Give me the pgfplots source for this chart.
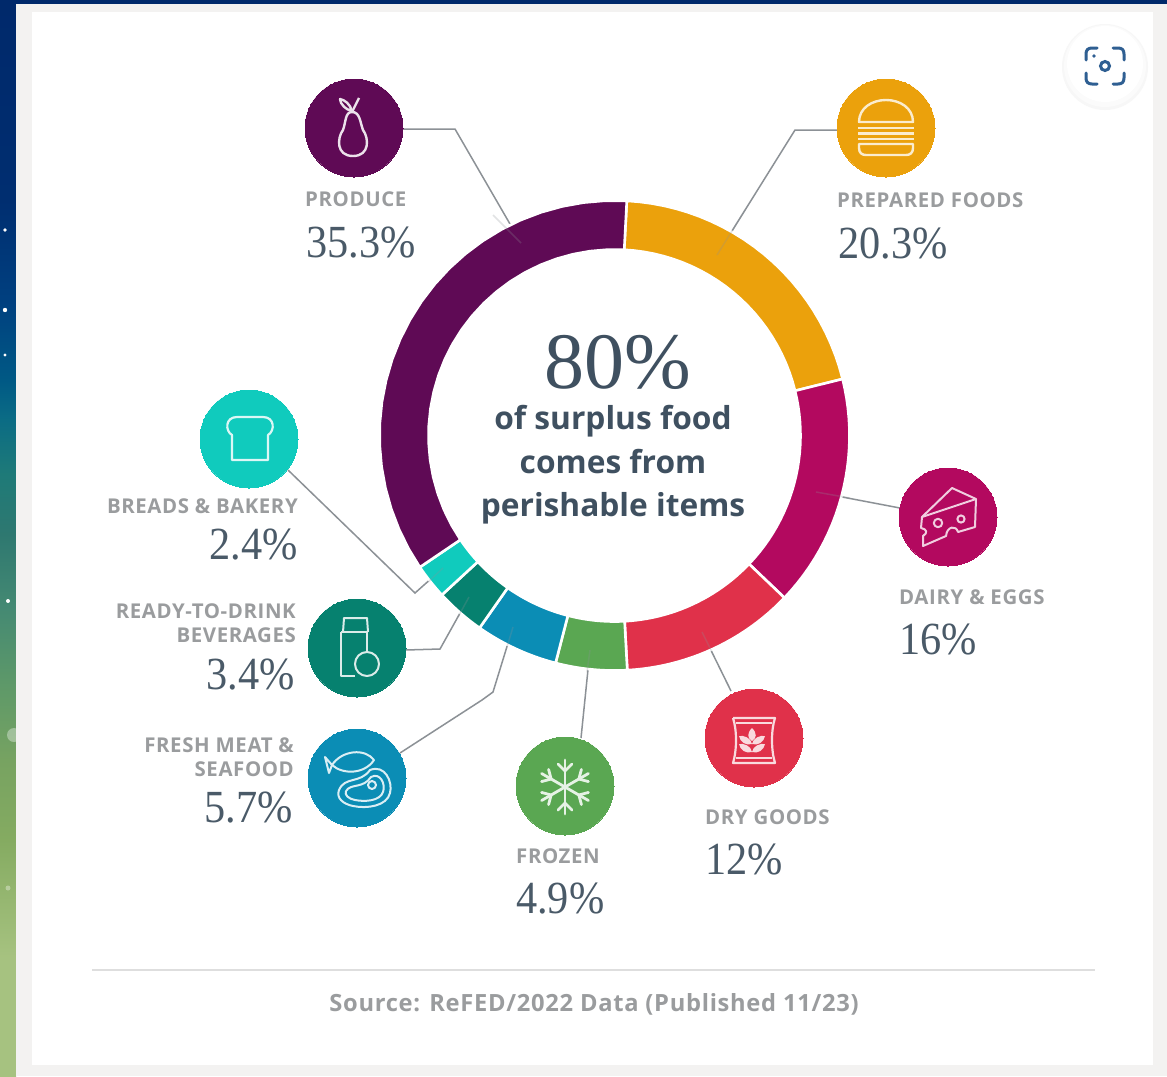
\documentclass[border=0pt]{standalone}
\usepackage{pgfplots}
\pgfplotsset{compat=1.18}
\usepackage{fontspec}
\setmainfont{Liberation Serif}
\newfontfamily\valfont[FakeStretch=0.92]{Liberation Serif}
\newfontfamily\lab[LetterSpace=3,BoldFont={Open Sans Bold}]{Open Sans}
\newfontfamily\body[BoldFont={Open Sans Bold}]{Open Sans}

\definecolor{produce}{HTML}{5F0A55}
\definecolor{prepared}{HTML}{EBA10C}
\definecolor{dairy}{HTML}{B3095F}
\definecolor{dry}{HTML}{E0314A}
\definecolor{frozen}{HTML}{5AA752}
\definecolor{fresh}{HTML}{0B8DB5}
\definecolor{ready}{HTML}{06816F}
\definecolor{breads}{HTML}{10CBBD}
\definecolor{leader}{HTML}{8C9196}
\definecolor{labelgray}{HTML}{9A9C9E}
\definecolor{valueink}{HTML}{4A5A68}
\definecolor{centerink}{HTML}{3F5060}
\definecolor{lensblue}{HTML}{2F5F92}
\definecolor{navy}{HTML}{00296B}
\definecolor{panel}{HTML}{F3F2F1}

% Night-to-meadow backdrop along the left edge
\pgfdeclareverticalshading{skystrip}{100bp}{
  rgb(0bp)=(0.65,0.76,0.50);
  rgb(30.6bp)=(0.65,0.76,0.50);
  rgb(36bp)=(0.52,0.67,0.38);
  rgb(39.5bp)=(0.47,0.64,0.38);
  rgb(43.1bp)=(0.37,0.60,0.41);
  rgb(46.7bp)=(0.27,0.54,0.45);
  rgb(50.2bp)=(0.18,0.47,0.44);
  rgb(52.9bp)=(0.12,0.48,0.47);
  rgb(55.6bp)=(0.04,0.42,0.52);
  rgb(57.3bp)=(0.00,0.35,0.52);
  rgb(61bp)=(0.00,0.25,0.50);
  rgb(65.7bp)=(0.00,0.18,0.44);
  rgb(75bp)=(0.00,0.16,0.42);
  rgb(100bp)=(0.00,0.16,0.42)}

% Ring geometry and running share of the whole
\def\cx{614.5}
\def\cy{435.5}
\def\rout{235}
\def\rin{186}
\def\offs{3}
\gdef\cum{0}

% One ring segment: share in percent, colour
\newcommand{\slice}[2]{%
  \pgfmathsetmacro{\aS}{\offs+3.6*\cum}%
  \pgfmathsetmacro{\aE}{\aS+3.6*#1}%
  \gdef\pts{}%
  \foreach \k in {0,...,24}{%
    \pgfmathsetmacro{\th}{\aS+(\aE-\aS)*\k/24}%
    \pgfmathsetmacro{\px}{\cx+\rout*sin(\th)}%
    \pgfmathsetmacro{\py}{\cy-\rout*cos(\th)}%
    \xdef\pts{\pts (\px,\py)}}%
  \foreach \k in {24,23,...,0}{%
    \pgfmathsetmacro{\th}{\aS+(\aE-\aS)*\k/24}%
    \pgfmathsetmacro{\px}{\cx+\rin*sin(\th)}%
    \pgfmathsetmacro{\py}{\cy-\rin*cos(\th)}%
    \xdef\pts{\pts (\px,\py)}}%
  \edef\cmd{\noexpand\addplot[fill=#2,draw=white,line width=2.6pt,line join=miter] coordinates {\pts} -- cycle;}%
  \cmd
  \pgfmathsetmacro{\nc}{\cum+#1}%
  \xdef\cum{\nc}%
}
% One badge disc
\newcommand{\badge}[3]{\addplot[only marks,mark=*,mark size=49pt,color=#3,mark options={draw=#3,fill=#3,line width=0pt}] coordinates {(#1,#2)};}
% Text helpers
\newcommand{\labtext}[1]{{\lab\bfseries\fontsize{20.4}{20.4}\selectfont\color{labelgray}#1}}
\newcommand{\valtext}[1]{{\valfont\fontsize{46}{46}\selectfont\color{valueink}#1}}

\begin{document}
\begin{tikzpicture}
\begin{scope}[x=1pt,y=-1pt]
  \useasboundingbox (0,0) rectangle (1167,1076);
  \shade[shading=skystrip] (0,0) rectangle (16,1076);
  \fill[white] (5,230) circle (1.8) (5,310) circle (2.2) (5,355) circle (1.6) (8,601) circle (2);
  \fill[white,opacity=.35] (14,735) circle (7) (8,888) circle (2.5);
  \fill[navy] (0,0) rectangle (1167,4);
  \fill[panel] (16,4) rectangle (1167,1076);
  \fill[white] (32,12) rectangle (1153,1065);
\end{scope}
\begin{axis}[
  at={(0,0)},anchor=north west,
  x=1pt,y=1pt,y dir=reverse,
  xmin=0,xmax=1167,ymin=0,ymax=1076,
  hide axis,clip=false]
  % Leader lines beneath the ring
  \addplot[no marks,leader,line width=1.5pt] coordinates {(403,129) (455,129) (521,243)};
  \addplot[no marks,leader,line width=1.5pt] coordinates {(837,130) (795,130) (717,255)};
  \addplot[no marks,leader,line width=1.5pt] coordinates {(816,492) (900,508)};
  \addplot[no marks,leader,line width=1.5pt] coordinates {(702,632) (731,691)};
  \addplot[no marks,leader,line width=1.5pt] coordinates {(590,650) (581,738)};
  \addplot[no marks,leader,line width=1.5pt] coordinates {(513,627) (493,692) (482,700) (400,753)};
  \addplot[no marks,leader,line width=1.5pt] coordinates {(469,597) (440,649) (405,650)};
  \addplot[no marks,leader,line width=1.5pt] coordinates {(288,470) (415,593) (443,568)};
  % Ring, clockwise from the top
  \slice{20.3}{prepared}
  \slice{16}{dairy}
  \slice{12}{dry}
  \slice{4.9}{frozen}
  \slice{5.7}{fresh}
  \slice{3.4}{ready}
  \slice{2.4}{breads}
  \slice{35.3}{produce}
  % Leader ends showing faintly on the ring
  \addplot[no marks,leader,opacity=.25,line width=1.5pt] coordinates {(493,215) (521,243)};
  \addplot[no marks,leader,opacity=.25,line width=1.5pt] coordinates {(745,210) (717,255)};
  \addplot[no marks,leader,opacity=.25,line width=1.5pt] coordinates {(816,492) (850,498)};
  \addplot[no marks,leader,opacity=.25,line width=1.5pt] coordinates {(702,632) (712,652)};
  \addplot[no marks,leader,opacity=.25,line width=1.5pt] coordinates {(590,650) (587,672)};
  \addplot[no marks,leader,opacity=.25,line width=1.5pt] coordinates {(513,627) (507,647)};
  \addplot[no marks,leader,opacity=.25,line width=1.5pt] coordinates {(469,597) (458,617)};
  \addplot[no marks,leader,opacity=.25,line width=1.5pt] coordinates {(443,568) (428,582)};
  % Badges
  \badge{354}{128}{produce}
  \badge{886}{128}{prepared}
  \badge{948}{517}{dairy}
  \badge{754}{738}{dry}
  \badge{565}{786}{frozen}
  \badge{357}{778}{fresh}
  \badge{357}{648}{ready}
  \badge{249}{439}{breads}
  % Footer rule
  \addplot[no marks,color=black!13,line width=2pt] coordinates {(92,970) (1095,970)};
  % Labels and values
  \node[anchor=base west,inner sep=0] at (axis cs:305,206) {\labtext{PRODUCE}};
  \node[anchor=base west,inner sep=0] at (axis cs:306,257) {\valtext{35.3\%}};
  \node[anchor=base west,inner sep=0] at (axis cs:837,207) {\labtext{PREPARED FOODS}};
  \node[anchor=base west,inner sep=0] at (axis cs:838,258) {\valtext{20.3\%}};
  \node[anchor=base west,inner sep=0] at (axis cs:899,604) {\labtext{DAIRY \& EGGS}};
  \node[anchor=base west,inner sep=0] at (axis cs:899,654) {\valtext{16\%}};
  \node[anchor=base west,inner sep=0] at (axis cs:705,824) {\labtext{DRY GOODS}};
  \node[anchor=base west,inner sep=0] at (axis cs:705,874) {\valtext{12\%}};
  \node[anchor=base west,inner sep=0] at (axis cs:516,863) {\labtext{FROZEN}};
  \node[anchor=base west,inner sep=0] at (axis cs:516,913) {\valtext{4.9\%}};
  \node[anchor=base east,inner sep=0] at (axis cs:298,513) {\labtext{BREADS \& BAKERY}};
  \node[anchor=base east,inner sep=0] at (axis cs:298,559) {\valtext{2.4\%}};
  \node[anchor=base east,inner sep=0] at (axis cs:296,618) {\labtext{READY-TO-DRINK}};
  \node[anchor=base east,inner sep=0] at (axis cs:296,642) {\labtext{BEVERAGES}};
  \node[anchor=base east,inner sep=0] at (axis cs:295,689) {\valtext{3.4\%}};
  \node[anchor=base east,inner sep=0] at (axis cs:294,752) {\labtext{FRESH MEAT \&}};
  \node[anchor=base east,inner sep=0] at (axis cs:294,776) {\labtext{SEAFOOD}};
  \node[anchor=base east,inner sep=0] at (axis cs:293,822) {\valtext{5.7\%}};
  % Centre statement
  \node[anchor=base,inner sep=0] at (axis cs:618,388) {\fontsize{80}{80}\selectfont\color{centerink}80\%};
  \node[anchor=base,inner sep=0] at (axis cs:613,429) {\body\bfseries\fontsize{31.7}{31.7}\selectfont\color{centerink}of surplus food};
  \node[anchor=base,inner sep=0] at (axis cs:613,473) {\body\bfseries\fontsize{31.7}{31.7}\selectfont\color{centerink}comes from};
  \node[anchor=base,inner sep=0] at (axis cs:613,516) {\body\bfseries\fontsize{31.7}{31.7}\selectfont\color{centerink}perishable items};
  % Source line
  \node[anchor=base,inner sep=0] at (axis cs:594,1011) {\lab\bfseries\fontsize{23.7}{23.7}\selectfont\color{labelgray}Source: ReFED/2022 Data (Published 11/23)};
\end{axis}

% Pictograms, in the same pixel grid as the axis
\begin{scope}[x=1pt,y=-1pt]
  % Lens button at the top right
  \fill[black!3] (1105,67) circle (43);
  \fill[black!1.5] (1105,66) circle (41);
  \fill[white] (1105,64) circle (38);
  \begin{scope}[shift={(1105,66)},draw=lensblue,line width=3pt,line cap=round]
    \draw (-8,-18) -- (-13,-18) .. controls (-17,-18) and (-19,-16) .. (-19,-12) -- (-19,-6);
    \draw (8,-18) -- (13,-18) .. controls (17,-18) and (19,-16) .. (19,-12) -- (19,-6);
    \draw (-19,7) -- (-19,12) .. controls (-19,16) and (-17,18) .. (-13,18) -- (-8,18);
    \draw (19,7) -- (19,12) .. controls (19,16) and (17,18) .. (13,18) -- (8,18);
    \draw (0,0) circle (4.5);
    \fill[lensblue] (-11,-10) circle (1.8);
  \end{scope}
  % Pear
  \begin{scope}[shift={(354,128)},draw=white!88!produce,line width=2.4pt,line join=round]
    \draw (-2,-16) .. controls (-9,-16) and (-8,-6) .. (-11,2) .. controls (-17,10) and (-18,28) .. (-1,28) .. controls (16,28) and (15,10) .. (9,2) .. controls (6,-6) and (6,-16) .. (-2,-16);
    \draw (-2,-16) -- (5,-30);
    \draw (-2,-17) .. controls (-4,-24) and (-9,-28) .. (-14,-29) .. controls (-14,-24) and (-8,-18) .. (-2,-17);
  \end{scope}
  % Burger
  \begin{scope}[shift={(886,128)},draw=white!80!prepared,line width=2.4pt,line join=round]
    \draw (-27,-6) .. controls (-27,-20) and (-14,-28) .. (0,-28) .. controls (14,-28) and (27,-20) .. (27,-6) -- cycle;
    \draw (-28,0) -- (28,0);
    \draw (-28,5.5) -- (28,5.5);
    \draw (-28,11) -- (28,11);
    \draw (-27,16) -- (27,16) -- (27,20) .. controls (27,25) and (24,27) .. (20,27) -- (-20,27) .. controls (-24,27) and (-27,25) .. (-27,20) -- cycle;
  \end{scope}
  % Cheese
  \begin{scope}[shift={(948,517)},draw=white!80!dairy,line width=2pt,line join=round]
    \draw (-26,0) -- (4,-29) -- (28,-18) -- (27,10) -- (10,15) .. controls (8,8) and (-1,9) .. (-2,19) -- (-25,29) -- (-25,19) .. controls (-20,16) and (-21,12) .. (-27,11) -- cycle;
    \draw (-26,0) -- (28,-18);
    \draw (-10,6) circle (4.2);
    \draw (13,2) circle (3.6);
  \end{scope}
  % Grain sack
  \begin{scope}[shift={(754,738)},draw=white!82!dry,line width=2.2pt,line join=round]
    \draw (-21,-20) -- (21,-20) .. controls (17,-8) and (17,12) .. (21,25) -- (-21,25) .. controls (-17,12) and (-17,-8) .. (-21,-20);
    \draw (-18,-15) -- (18,-15);
    \draw (-18,20) -- (18,20);
    \fill[white!82!dry] (-2,-10) .. controls (3,-5) and (3,0) .. (-2,3) .. controls (-7,0) and (-7,-5) .. (-2,-10);
    \fill[white!82!dry] (-2,6) .. controls (-3,0) and (-10,-3) .. (-15,-2) .. controls (-14,4) and (-8,8) .. (-2,6);
    \fill[white!82!dry] (-2,6) .. controls (-1,0) and (6,-3) .. (11,-2) .. controls (10,4) and (4,8) .. (-2,6);
    \fill[white!82!dry] (-2,14) .. controls (-3,8) and (-10,5) .. (-15,6) .. controls (-14,12) and (-8,16) .. (-2,14);
    \fill[white!82!dry] (-2,14) .. controls (-1,8) and (6,5) .. (11,6) .. controls (10,12) and (4,16) .. (-2,14);
  \end{scope}
  % Snowflake
  \begin{scope}[shift={(565,787)},draw=white!85!frozen,line width=2.8pt,line cap=round]
    \foreach \r in {0,60,...,300}{
      \begin{scope}[rotate=\r]
        \draw (0,0) -- (0,-27);
        \draw (-7,-23) -- (0,-16) -- (7,-23);
      \end{scope}}
  \end{scope}
  % Fish and steak
  \begin{scope}[shift={(357,778)},draw=white!85!fresh,line width=2pt,line join=round]
    \draw (-25,-13) .. controls (-15,-28) and (8,-30) .. (17,-18) .. controls (8,-4) and (-14,-3) .. (-25,-13);
    \draw (-25,-13) -- (-32,-21) -- (-28,-5) -- cycle;
    \draw (-18,12) .. controls (-12,-2) and (3,6) .. (13,-8) .. controls (28,-14) and (36,4) .. (33,15) .. controls (30,28) and (10,31) .. (-4,28) .. controls (-14,26) and (-21,20) .. (-18,12);
    \draw (-11,13) .. controls (-6,5) and (6,11) .. (14,-1) .. controls (23,-6) and (29,6) .. (26,14) .. controls (23,23) and (8,24) .. (-2,22) .. controls (-8,21) and (-13,17) .. (-11,13);
    \draw (15,7) circle (4);
  \end{scope}
  % Carton and bottle cap
  \begin{scope}[shift={(357,648)},draw=white!85!ready,line width=2pt,line join=round]
    \draw (-14,-16) -- (-13,-30) -- (10,-30) -- (11,-16);
    \draw (-16,-16) -- (11,-16);
    \draw (-16,-16) -- (-16,28) -- (-2,28);
    \draw (10,-16) -- (10,5);
    \draw[fill=ready] (10,16) circle (12);
  \end{scope}
  % Bread slice
  \begin{scope}[shift={(249,439)},draw=white!85!breads,line width=2.2pt,line join=round]
    \draw (-17,21) -- (19,21) -- (19,-4) .. controls (26,-8) and (26,-22) .. (14,-22) -- (-12,-22) .. controls (-24,-22) and (-24,-8) .. (-17,-4) -- cycle;
  \end{scope}
\end{scope}
\end{tikzpicture}
\end{document}
